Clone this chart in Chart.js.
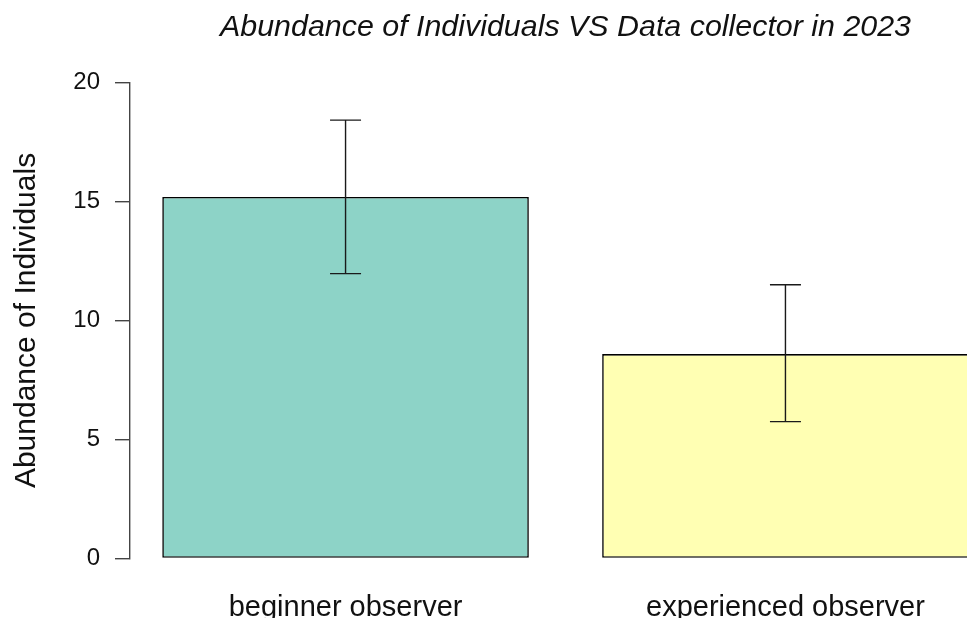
<!DOCTYPE html>
<html>
<head>
<meta charset="utf-8">
<script src="https://cdn.jsdelivr.net/npm/chart.js@4"></script>
<style>
  html, body { margin: 0; padding: 0; background: #fff; overflow: hidden; }
  #wrap { width: 1131px; height: 618px; }
</style>
</head>
<body>
<div id="wrap"><canvas id="c" width="1131" height="618"></canvas></div>
<script>
// ---- data ----
const categories = ["beginner observer", "experienced observer"];
const meanValues = [15.19, 8.59];
const lowerValues = [11.97, 5.75];
const upperValues = [18.42, 11.50];
const yTicks = [0, 5, 10, 15, 20];
const barColors = ["#8DD3C7", "#FFFFB3"];

// barplot layout in data units (width 1, space 0.2)
const barWidth = 1, barSpace = 0.2;
const centers = categories.map((_, i) => barSpace + i * (barWidth + barSpace) + barWidth / 2);
const xLo = barSpace, xHi = categories.length * (barWidth + barSpace);
const ext = (xHi - xLo) * 0.04;

const errorBars = {
  id: 'errorBars',
  afterDatasetsDraw(chart) {
    const ctx = chart.ctx, xs = chart.scales.x, ys = chart.scales.y;
    ctx.save();
    ctx.strokeStyle = '#1a1a1a';
    ctx.lineWidth = 1.4;
    centers.forEach((cx, i) => {
      const px = xs.getPixelForValue(cx);
      const top = ys.getPixelForValue(upperValues[i]);
      const bot = ys.getPixelForValue(lowerValues[i]);
      const cap = 15.5;
      ctx.beginPath();
      ctx.moveTo(px, top); ctx.lineTo(px, bot);
      ctx.moveTo(px - cap, top); ctx.lineTo(px + cap, top);
      ctx.moveTo(px - cap, bot); ctx.lineTo(px + cap, bot);
      ctx.stroke();
    });
    ctx.restore();
  }
};

new Chart(document.getElementById('c'), {
  type: 'bar',
  data: {
    datasets: [{
      data: categories.map((c, i) => ({ x: centers[i], y: meanValues[i] })),
      backgroundColor: barColors,
      borderColor: '#000',
      borderWidth: 1.6,
      borderSkipped: false,
      categoryPercentage: 1,
      barPercentage: barWidth / (barWidth + barSpace)
    }]
  },
  options: {
    responsive: false,
    animation: false,
    events: [],
    layout: { padding: 0 },
    plugins: {
      legend: { display: false },
      tooltip: { enabled: false },
      title: {
        display: true,
        text: 'Abundance of Individuals VS Data collector in 2023',
        color: '#111',
        font: { family: 'Liberation Sans', size: 30.4, style: 'italic', weight: 'normal' },
        padding: { top: 9, bottom: 37 }
      }
    },
    scales: {
      x: {
        type: 'linear',
        offset: false,
        min: xLo - ext,
        max: xHi + ext,
        grid: { display: false },
        border: { display: false },
        afterBuildTicks(scale) { scale.ticks = centers.map(v => ({ value: v })); },
        afterFit(scale) { scale.height = 59.5; },
        ticks: {
          padding: 24,
          color: '#111',
          font: { family: 'Liberation Sans', size: 29 },
          maxRotation: 0,
          autoSkip: false,
          callback: (v) => { const i = centers.findIndex(c => Math.abs(c - v) < 1e-6); return i >= 0 ? categories[i] : ''; }
        }
      },
      y: {
        min: yTicks[0],
        max: yTicks[yTicks.length - 1],
        afterBuildTicks(scale) { scale.ticks = yTicks.map(v => ({ value: v })); },
        afterFit(scale) { scale.width = 130; },
        grid: { drawOnChartArea: false, drawTicks: true, tickLength: 15, color: '#444', lineWidth: 1.4 },
        border: { display: true, color: '#444', width: 1.4 },
        ticks: {
          padding: 15,
          color: '#111',
          font: { family: 'Liberation Sans', size: 24 }
        },
        title: {
          display: true,
          text: 'Abundance of Individuals',
          color: '#111',
          font: { family: 'Liberation Sans', size: 30 },
          padding: { top: 9, bottom: 0 }
        }
      },
      yRight: {
        position: 'right',
        display: true,
        min: 0,
        max: 20,
        grid: { display: false },
        border: { display: false },
        ticks: { display: false },
        afterFit(scale) { scale.width = 130; }
      }
    }
  },
  plugins: [errorBars]
});
</script>
</body>
</html>
